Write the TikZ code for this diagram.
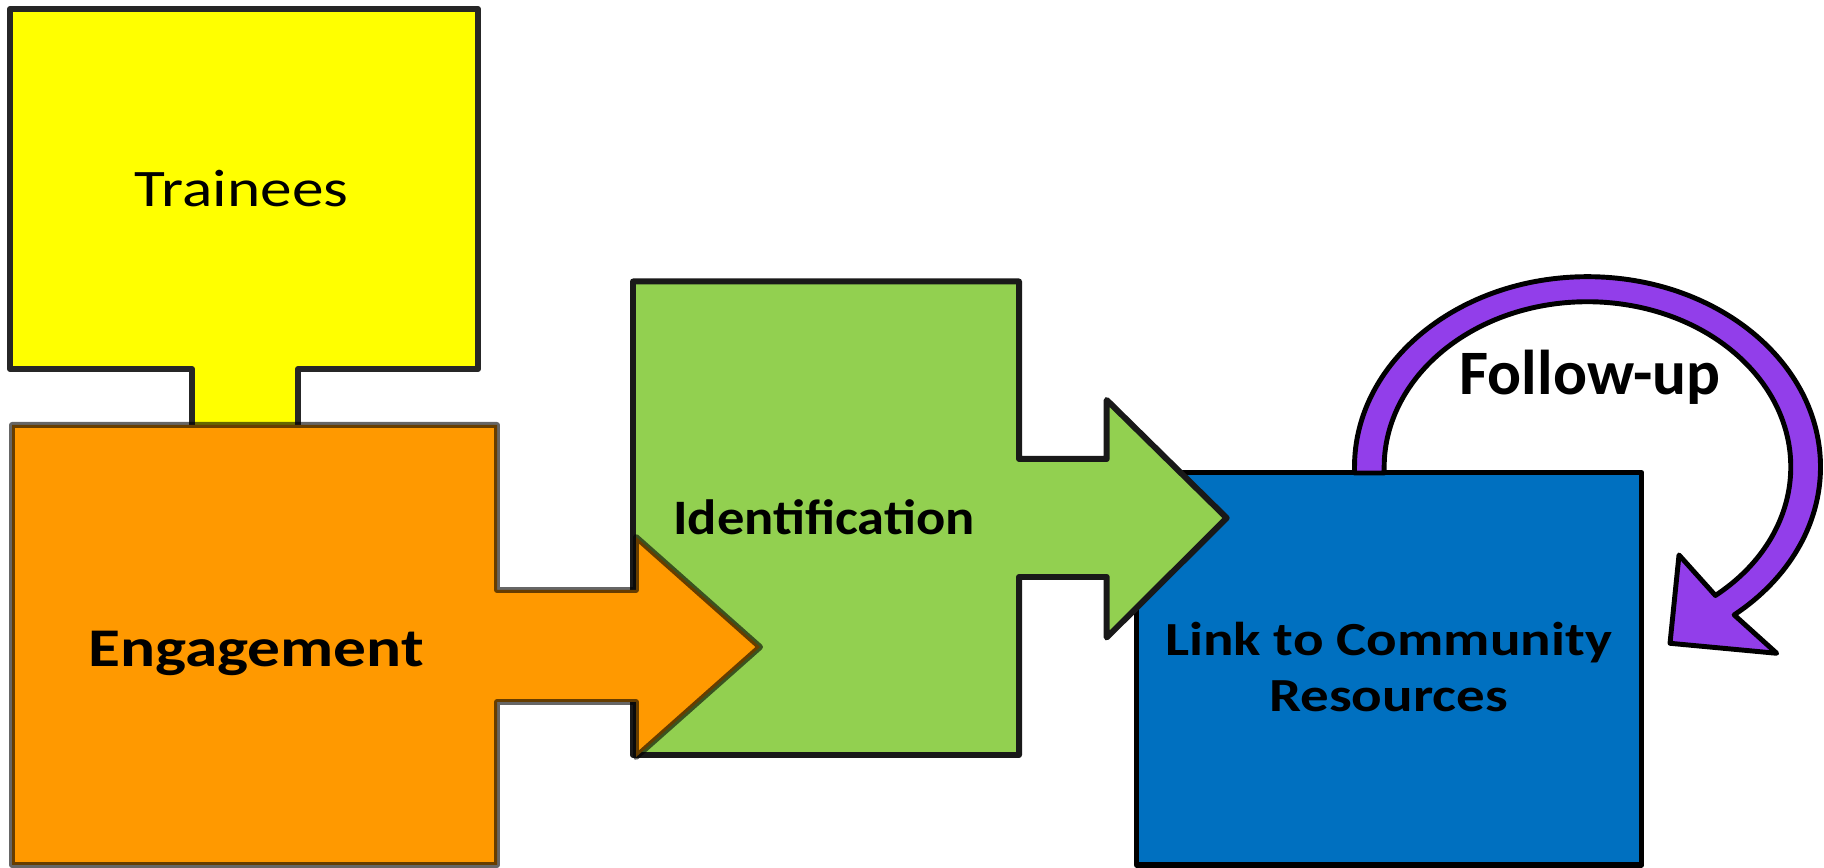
\documentclass[tikz,border=0pt]{standalone}
\usepackage{fontspec}
\setmainfont{Carlito}
\newfontfamily\widefont[FakeStretch=1.2]{Carlito}
\newfontfamily\halfwidefont[FakeStretch=1.1]{Carlito}
\usetikzlibrary{positioning}
\definecolor{traineeyellow}{HTML}{FFFF00}
\definecolor{engageorange}{HTML}{FF9900}
\definecolor{identgreen}{HTML}{92D050}
\definecolor{linkblue}{HTML}{0070C0}
\definecolor{followpurple}{RGB}{146,62,234}
\tikzset{%
  % Specifications for style of shapes:
   blockshape/.style={
           line width=1.7pt,
           line join=round,},
   traineeshape/.style={
           blockshape,
           draw=black!85,
           fill=traineeyellow},
   engageshape/.style={
           blockshape,
           draw=black, draw opacity=0.6,
           fill=engageorange},
   identshape/.style={
           blockshape,
           draw=black!90,
           fill=identgreen},
   linkshape/.style={
           blockshape,
           line width=1.5pt,
           draw=black,
           fill=linkblue},
   followshape/.style={
           blockshape,
           line width=1.4pt,
           draw=black,
           fill=followpurple},
  % Specifications for style of texts:
   blocktext/.style = {inner sep=0pt, text=black, align=center},
   traineetext/.style = {blocktext, anchor=base,
                  font=\widefont\fontsize{15}{18}\selectfont},
   engagetext/.style = {blocktext, anchor=base,
                  font=\widefont\bfseries\fontsize{15.5}{18}\selectfont},
   identtext/.style = {blocktext, anchor=base,
                  font=\halfwidefont\bfseries\fontsize{14.1}{17}\selectfont},
   linktext/.style = {blocktext,
                  font=\widefont\bfseries\fontsize{13.5}{16.1}\selectfont},
   followtext/.style = {blocktext, anchor=base,
                  font=\bfseries\fontsize{18}{21}\selectfont},
}

\begin{document}
\begin{tikzpicture}[x=0.01cm, y=-0.01cm]
  \useasboundingbox (0,0) rectangle (1824,868);

  % Shapes, back to front
  \draw[traineeshape] (10,9) -- (478,9) -- (478,369) -- (298,369) -- (298,428)
        -- (192,428) -- (192,369) -- (10,369) -- cycle;
  \draw[linkshape] (1136.5,472.7) rectangle (1641.7,865);
  \draw[identshape] (633,281.5) -- (1019,281.5) -- (1019,459) -- (1106.7,459)
        -- (1106.7,400) -- (1226.7,518) -- (1106.7,637.5) -- (1106.7,577)
        -- (1019,577) -- (1019,755) -- (633,755) -- cycle;
  \draw[engageshape] (12,425) -- (497,425) -- (497,590) -- (636,590) -- (636,537)
        -- (760,647) -- (636,757) -- (636,702) -- (497,702) -- (497,865)
        -- (12,865) -- cycle;
  \draw[followshape] (1354.5,473) -- (1354.5,467)
        arc[start angle=180, end angle=411, x radius=233, y radius=190.3]
        -- (1776.7,653.3) -- (1670,643.3) -- (1679,555) -- (1715.4,595.5)
        arc[start angle=411, end angle=180, x radius=203.3, y radius=165.3]
        -- (1384.2,473) -- cycle;

  % Specification of texts (position, etc.)
  \node (trainees_text) [traineetext] at (241.5,206.7) {Trainees};
  \node (engage_text)   [engagetext]  at (256,666.7)   {Engagement};
  \node (ident_text)    [identtext]   at (824,535)     {Identification};
  \node (link_text)     [linktext]    at (1388.5,667)  {Link to Community\\Resources};
  \node (follow_text)   [followtext]  at (1590,395)    {Follow-up};
\end{tikzpicture}
\end{document}
